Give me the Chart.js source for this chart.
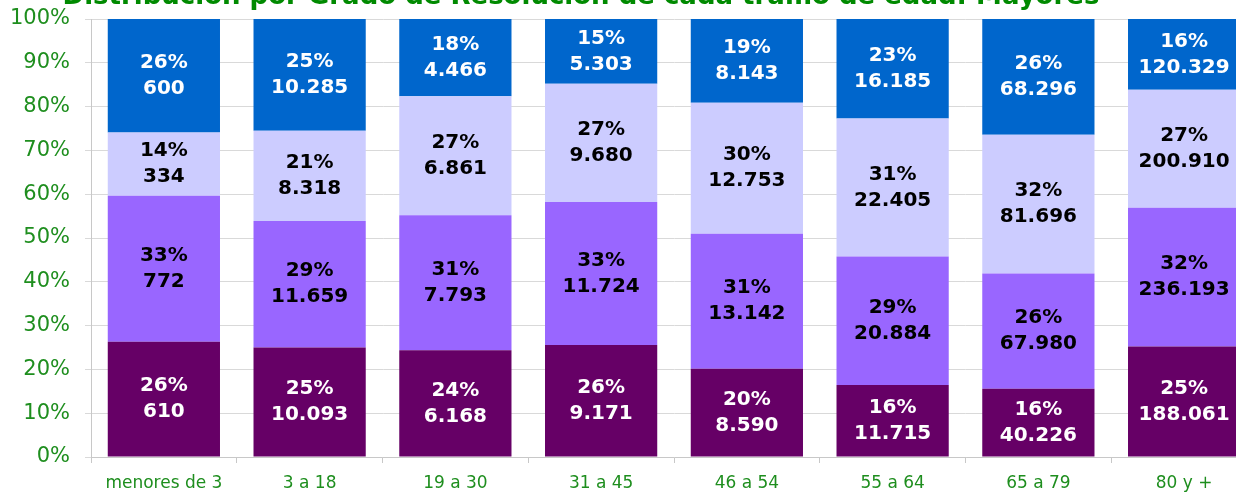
<!DOCTYPE html>
<html>
<head>
<meta charset="utf-8">
<script src="https://cdn.jsdelivr.net/npm/chart.js@4"></script>
<style>
  html, body { margin: 0; padding: 0; overflow: hidden; background: #fff; width: 1236px; height: 493px; }
  #wrap { position: absolute; left: 0; top: -40px; }
</style>
</head>
<body>
<div id="wrap"><canvas id="myChart" width="1262" height="533"></canvas></div>
<script>
let titulo = "Distribución por Grado de Resolución de cada tramo de edad: Mayores";
let labels = ["menores de 3", "3 a 18", "19 a 30", "31 a 45", "46 a 54", "55 a 64", "65 a 79", "80 y +"];
let grado1 = [610, 10093, 6168, 9171, 8590, 11715, 40226, 188061];
let grado2 = [772, 11659, 7793, 11724, 13142, 20884, 67980, 236193];
let grado3 = [334, 8318, 6861, 9680, 12753, 22405, 81696, 200910];
let grado4 = [600, 10285, 4466, 5303, 8143, 16185, 68296, 120329];

let series = [grado1, grado2, grado3, grado4];
let totals = labels.map((l, i) => series.reduce((s, arr) => s + arr[i], 0));
let pct = (arr) => arr.map((v, i) => v / totals[i] * 100);

let verde = "#1e8e1e";

function puntos(n) {
  return n.toString().replace(/\B(?=(\d{3})+(?!\d))/g, ".");
}

// titulo (queda cortado arriba, como en el original)
const cabecera = {
  id: "cabecera",
  afterDraw(chart) {
    let ctx = chart.ctx;
    ctx.save();
    ctx.font = "bold 26px 'DejaVu Sans'";
    ctx.fillStyle = "#008a00";
    ctx.textAlign = "center";
    ctx.textBaseline = "alphabetic";
    ctx.fillText(titulo, 581, 44);
    ctx.restore();
  }
};

// etiquetas dentro de cada segmento: porcentaje y valor
const etiquetas = {
  id: "etiquetas",
  afterDatasetsDraw(chart) {
    let ctx = chart.ctx;
    ctx.save();
    ctx.font = "bold 20px 'DejaVu Sans'";
    ctx.textAlign = "center";
    ctx.textBaseline = "middle";
    chart.data.datasets.forEach((ds, d) => {
      let meta = chart.getDatasetMeta(d);
      meta.data.forEach((bar, i) => {
        let cy = (bar.y + bar.base) / 2;
        ctx.fillStyle = ds.labelColor;
        ctx.fillText(Math.round(ds.data[i]) + "%", bar.x, cy - 13);
        ctx.fillText(puntos(series[d][i]), bar.x, cy + 13);
      });
    });
    ctx.restore();
  }
};

var ctx = document.getElementById("myChart");
var barChart = new Chart(ctx, {
  type: "bar",
  data: {
    labels: labels,
    datasets: [
      { label: "Grado 1", data: pct(grado1), backgroundColor: "#660066", labelColor: "#ffffff" },
      { label: "Grado 2", data: pct(grado2), backgroundColor: "#9966ff", labelColor: "#000000" },
      { label: "Grado 3", data: pct(grado3), backgroundColor: "#ccccff", labelColor: "#000000" },
      { label: "Grado 4", data: pct(grado4), backgroundColor: "#0066cc", labelColor: "#ffffff" },
    ],
  },
  options: {
    responsive: false,
    animation: false,
    layout: { padding: { left: 0, right: 5, top: 59, bottom: 0 } },
    datasets: { bar: { barPercentage: 0.77, categoryPercentage: 1 } },
    plugins: {
      legend: { display: false },
      tooltip: { enabled: false },
      title: { display: false },
    },
    scales: {
      x: {
        stacked: true,
        afterFit: (s) => { s.height = 36; },
        grid: { drawOnChartArea: false, tickLength: 6, color: "#c8c8c8", offset: true },
        border: { color: "#c8c8c8" },
        ticks: { color: verde, padding: 10, font: { family: "'DejaVu Sans'", size: 17 } },
      },
      y: {
        stacked: true,
        min: 0,
        max: 100,
        afterFit: (s) => { s.width = 91; },
        grid: { color: "#d9d9d9", tickLength: 6 },
        border: { color: "#c8c8c8" },
        ticks: {
          stepSize: 10,
          color: verde,
          padding: 15,
          font: { family: "'DejaVu Sans'", size: 21 },
          callback: (v) => v + "%",
        },
      },
    },
  },
  plugins: [etiquetas, cabecera],
});
</script>
</body>
</html>
